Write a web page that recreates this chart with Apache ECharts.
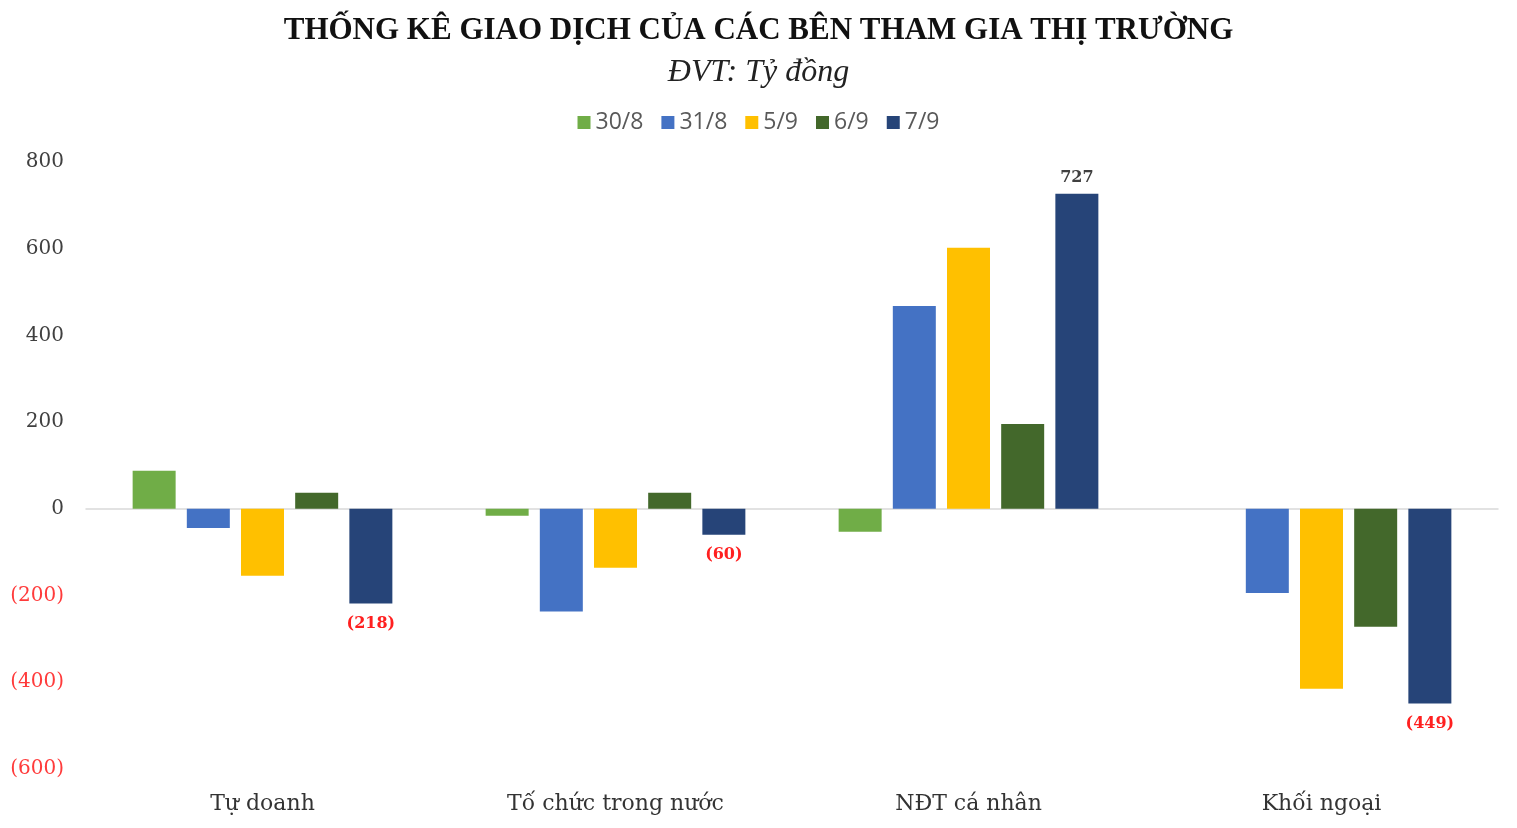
<!DOCTYPE html>
<html>
<head>
<meta charset="utf-8">
<script src="https://cdn.jsdelivr.net/npm/echarts@6/dist/echarts.min.js"></script>
<style>
  html, body { margin: 0; padding: 0; background: #fff; }
  #chart { width: 1517px; height: 828px; }
</style>
</head>
<body>
<div id="chart"></div>
<script>
const categories = ['Tự doanh', 'Tố chức trong nước', 'NĐT cá nhân', 'Khối ngoại']
const seriesNames = ['30/8', '31/8', '5/9', '6/9', '7/9']
const colors = ['#70AD47', '#4472C4', '#FFC000', '#43682B', '#264478']

const d3008 = [88, -16, -53, 0]
const d3108 = [-44, -237, 468, -194]
const d0509 = [-154, -136, 602, -415]
const d0609 = [37, 37, 196, -272]
const d0709 = [-218, -60, 727, -449]

const yTicks = { min: -600, max: 800, interval: 200 }

const serif = '"DejaVu Serif", "Liberation Serif", serif'

function fmt(v) {
    return v < 0 ? '(' + Math.abs(v) + ')' : String(v)
}

const allData = [d3008, d3108, d0509, d0609, d0709]

let option = {
    animation: false,
    backgroundColor: '#fff',
    title: [
        {
            text: 'THỐNG KÊ GIAO DỊCH CỦA CÁC BÊN THAM GIA THỊ TRƯỜNG',
            left: 'center',
            top: 10,
            textStyle: {
                fontFamily: '"Liberation Serif", serif',
                fontWeight: 'bold',
                fontSize: 31,
                color: '#111'
            }
        },
        {
            text: 'ĐVT: Tỷ đồng',
            left: 'center',
            top: 52,
            textStyle: {
                fontFamily: '"Liberation Serif", serif',
                fontStyle: 'italic',
                fontWeight: 'normal',
                fontSize: 32,
                color: '#222'
            }
        }
    ],
    legend: {
        data: seriesNames,
        top: 106,
        left: 'center',
        itemWidth: 13,
        itemHeight: 13,
        itemGap: 18,
        icon: 'rect',
        textStyle: {
            fontFamily: '"Open Sans", sans-serif',
            fontSize: 23,
            color: '#595959'
        }
    },
    grid: {
        left: 86,
        right: 19,
        top: 162,
        bottom: 59
    },
    xAxis: {
        type: 'category',
        data: categories,
        axisLine: { onZero: true, lineStyle: { color: '#d9d9d9', width: 1.5 } },
        axisTick: { show: false },
        axisLabel: {
            fontFamily: serif,
            fontSize: 22,
            color: '#333',
            margin: 24
        }
    },
    yAxis: {
        type: 'value',
        min: yTicks.min,
        max: yTicks.max,
        interval: yTicks.interval,
        splitLine: { show: false },
        axisLine: { show: false },
        axisTick: { show: false },
        axisLabel: {
            fontFamily: serif,
            fontSize: 20,
            margin: 22,
            formatter: fmt,
            color: function (v) { return v < 0 ? '#FF3B3B' : '#404040' }
        }
    },
    series: seriesNames.map(function (name, i) {
        let s = {
            name: name,
            type: 'bar',
            data: allData[i],
            barWidth: 43,
            barGap: '26%',
            itemStyle: { color: colors[i] }
        }
        if (i === 4) {
            s.label = {
                show: true,
                fontFamily: serif,
                fontWeight: 'bold',
                fontSize: 16,
                formatter: function (p) { return fmt(p.value) }
            }
            s.data = allData[i].map(function (v) {
                return {
                    value: v,
                    label: {
                        position: v < 0 ? 'bottom' : 'top',
                        distance: v < 0 ? 12 : 8,
                        color: v < 0 ? '#FF2020' : '#404040'
                    }
                }
            })
        }
        return s
    })
}

let chart = echarts.init(document.getElementById('chart'))
chart.setOption(option)
</script>
</body>
</html>
